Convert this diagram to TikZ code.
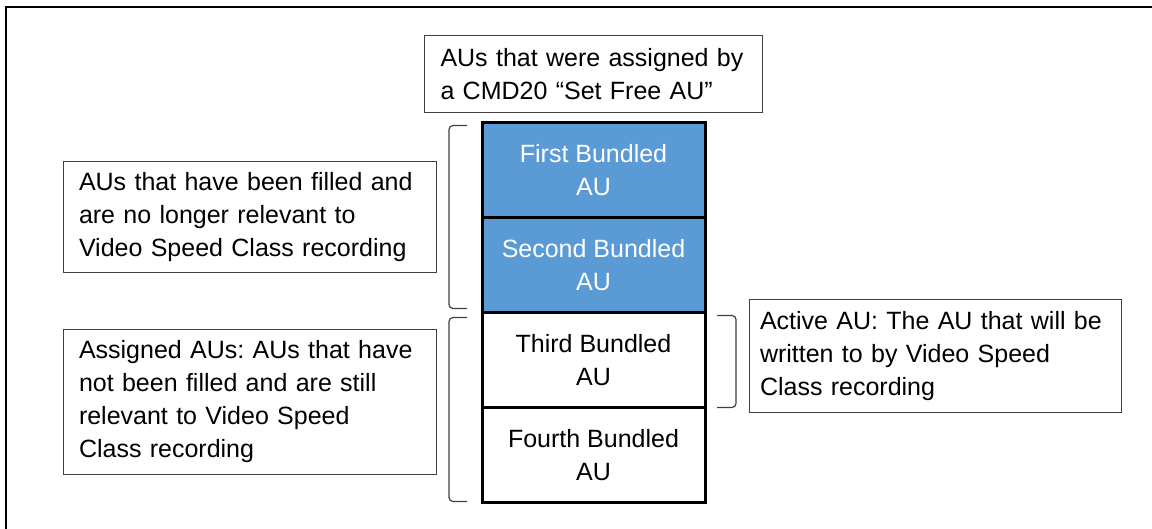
\documentclass[tikz,border=0pt]{standalone}
\usepackage{fontspec}
\setmainfont{Liberation Sans}
\usetikzlibrary{positioning}

\definecolor{aublue}{HTML}{5B9BD5}

\begin{document}
\frenchspacing
\begin{tikzpicture}[
x=0.5pt, y=-0.5pt,
font=\fontsize{12.5}{16.5}\selectfont,
aubox/.style={draw=black, line width=1.5pt, minimum width=111.5pt, minimum height=47.5pt, align=center, outer sep=0pt, inner sep=0pt},
filledau/.style={aubox, fill=aublue, text=white},
notebox/.style={draw=black!75, line width=0.5pt, align=left, inner xsep=8pt, outer sep=0pt},
brak/.style={draw=black!75, line width=0.6pt, rounded corners=2pt}
]
\useasboundingbox (0,0) rectangle (1152,529);
\draw[line width=1pt] (6,529) -- (6,7) -- (1152,7);

\node[filledau] (au1) at (593.5,170) {First Bundled\\AU};
\node[filledau, below=0pt of au1] (au2) {Second Bundled\\AU};
\node[aubox, below=0pt of au2] (au3) {Third Bundled\\AU};
\node[aubox, below=0pt of au3] (au4) {Fourth Bundled\\AU};

\node[notebox, text width=153pt, minimum height=38.5pt, above=5pt of au1] (assigned) {AUs that were assigned by\\a CMD20 “Set Free AU”};
\node[notebox, text width=170.5pt, minimum height=55.5pt, left=23pt of au1.south west] (filled) {AUs that have been filled and\\are no longer relevant to\\Video Speed Class recording};
\node[notebox, text width=170.5pt, minimum height=72.5pt, left=23pt of au3.south west, yshift=2.75pt] (pending) {Assigned AUs: AUs that have\\not been filled and are still\\relevant to Video Speed\\Class recording};
\node[notebox, text width=175pt, inner xsep=5.5pt, minimum height=56.5pt, right=22pt of au3, yshift=2pt] (active) {Active AU: The AU that will be\\written to by Video Speed\\Class recording};

\draw[brak] ([xshift=-7.5pt,yshift=-1.5pt]au1.north west) -| ([xshift=-16.5pt,yshift=2pt]au2.south west) -- ([xshift=-7.5pt,yshift=2pt]au2.south west);
\draw[brak] ([xshift=-7.5pt,yshift=-2.5pt]au3.north west) -| ([xshift=-16.5pt,yshift=0.5pt]au4.south west) -- ([xshift=-7.5pt,yshift=0.5pt]au4.south west);
\draw[brak] ([xshift=6pt,yshift=-1.5pt]au3.north east) -| ([xshift=15.5pt]au3.south east) -- ([xshift=6pt]au3.south east);
\end{tikzpicture}
\end{document}
